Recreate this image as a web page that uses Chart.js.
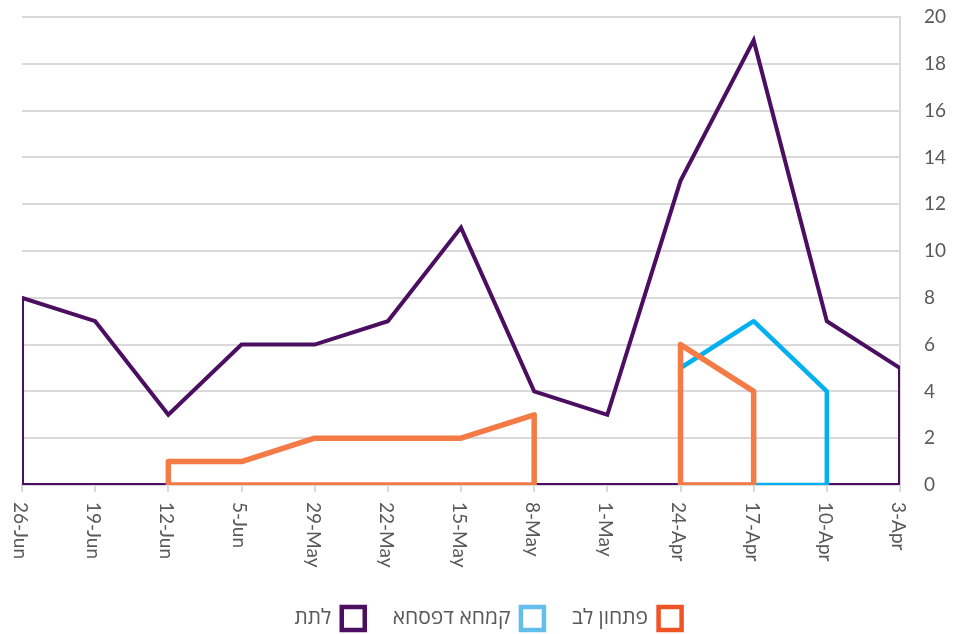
<!DOCTYPE html>
<html>
<head>
<meta charset="utf-8">
<script src="https://cdn.jsdelivr.net/npm/chart.js@4.4.0/dist/chart.umd.min.js"></script>
<style>
  html, body { margin: 0; padding: 0; background: #fff; }
  #wrap { width: 954px; height: 634px; }
</style>
</head>
<body>
<div id="wrap"><canvas id="chart" width="954" height="634"></canvas></div>
<script>
// weeks, oldest first (the axis is drawn reversed, like the original)
const weeks = ['3-Apr', '10-Apr', '17-Apr', '24-Apr', '1-May', '8-May', '15-May', '22-May', '29-May', '5-Jun', '12-Jun', '19-Jun', '26-Jun'];
const latet = [5, 7, 19, 13, 3, 4, 11, 7, 6, 6, 3, 7, 8];
const kimcha = [null, 4, 7, 5, null, null, null, null, null, null, null, null, null];
const petach = [null, null, 4, 6, null, 3, 2, 2, 2, 1, 1, null, null];
const yTicks = [0, 2, 4, 6, 8, 10, 12, 14, 16, 18, 20];

const seriesNames = ['פתחון לב', 'קמחא דפסחא', 'לתת'];
const lineColors = ['#F47A46', '#00B0F0', '#4B0E60'];
const legendColors = ['#F05325', '#63BEEE', '#4B0E60'];

const textGrey = '#595959';
const gridGrey = '#d9d9d9';
const tickFont = "Lato, 'DejaVu Sans', sans-serif";

// excel area outline: each run of values is closed down to 0 and back
function outline(values) {
    let pts = [];
    let i = 0;
    while (i < values.length) {
        if (values[i] === null) { i++; continue; }
        let start = i;
        while (i < values.length && values[i] !== null) i++;
        let end = i - 1;
        pts.push({x: start, y: 0});
        for (let k = start; k <= end; k++) pts.push({x: k, y: values[k]});
        pts.push({x: end, y: 0});
        pts.push({x: start, y: 0});
        pts.push({x: end, y: null});
    }
    return pts;
}

// x labels turned clockwise, read top to bottom
const weekLabels = {
    id: 'weekLabels',
    afterDraw(chart) {
        const ctx = chart.ctx;
        const xs = chart.scales.x;
        ctx.save();
        ctx.direction = 'ltr';
        ctx.fillStyle = textGrey;
        ctx.font = '19px ' + tickFont;
        ctx.textAlign = 'left';
        ctx.textBaseline = 'middle';
        for (let i = 0; i < weeks.length; i++) {
            let x = xs.getPixelForValue(i);
            ctx.save();
            ctx.translate(x - 2, 502);
            ctx.rotate(Math.PI / 2);
            ctx.fillText(weeks[i], 0, 0);
            ctx.restore();
        }
        ctx.restore();
    }
};

const datasets = [petach, kimcha, latet].map((vals, i) => ({
    label: seriesNames[i],
    data: outline(vals),
    borderColor: lineColors[i],
    backgroundColor: '#fff',
    borderWidth: [5.5, 4.5, 4][i],
    borderJoinStyle: i == 2 ? 'miter' : 'round',
    pointRadius: 0,
    tension: 0,
    fill: false,
    spanGaps: false,
    clip: 0
}));

new Chart(document.getElementById('chart'), {
    type: 'line',
    data: { datasets: datasets },
    plugins: [weekLabels],
    options: {
        responsive: false,
        animation: false,
        layout: { padding: { top: 17, left: 22, right: 0, bottom: -6 } },
        plugins: {
            tooltip: { enabled: false },
            legend: {
                position: 'bottom',
                rtl: true,
                textDirection: 'rtl',
                labels: {
                    boxWidth: 23,
                    boxHeight: 23,
                    padding: 28,
                    color: textGrey,
                    useBorderRadius: true,
                    borderRadius: 3,
                    font: { size: 21, family: "'Open Sans', 'DejaVu Sans', sans-serif" },
                    generateLabels: chart => seriesNames.map((name, i) => ({
                        text: name,
                        fillStyle: '#fff',
                        strokeStyle: legendColors[i],
                        lineWidth: 4.5,
                        fontColor: textGrey,
                        hidden: false,
                        datasetIndex: i
                    }))
                }
            }
        },
        scales: {
            x: {
                type: 'linear',
                reverse: true,
                min: 0,
                max: weeks.length - 1,
                afterFit: s => { s.height = 94; s.paddingLeft = 0; s.paddingRight = 0; },
                ticks: { display: false, stepSize: 1 },
                grid: { drawOnChartArea: false, drawTicks: true, tickLength: 7, color: gridGrey, lineWidth: 2 },
                border: { display: true, color: gridGrey, width: 2 }
            },
            y: {
                position: 'right',
                min: 0,
                max: 20,
                afterFit: s => { s.width = 54; s.paddingTop = 0; s.paddingBottom = 0; },
                afterBuildTicks: s => { s.ticks = yTicks.map(v => ({value: v})); },
                ticks: { color: textGrey, padding: 24, font: { size: 19, family: tickFont } },
                grid: { drawTicks: false, color: gridGrey, lineWidth: 2 },
                border: { display: true, color: gridGrey, width: 2 }
            }
        }
    }
});
</script>
</body>
</html>
